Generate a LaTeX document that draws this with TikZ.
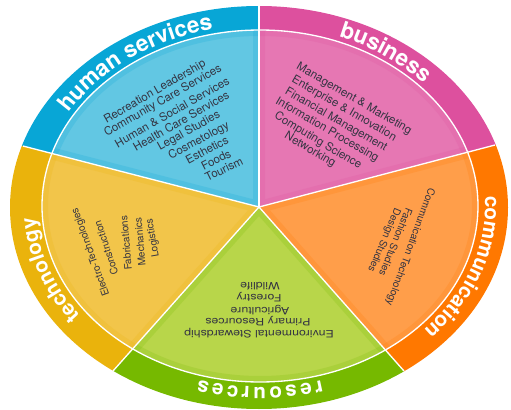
\documentclass[tikz,border=0pt]{standalone}
\usepackage{fontspec}
\setmainfont{TeX Gyre Heros}
\usetikzlibrary{calc,decorations.text}

\definecolor{hsband}{RGB}{8,166,214}
\definecolor{hsfill}{RGB}{98,199,227}
\definecolor{busband}{RGB}{221,80,158}
\definecolor{busfill}{RGB}{230,119,179}
\definecolor{comband}{RGB}{255,120,0}
\definecolor{comfill}{RGB}{255,158,74}
\definecolor{resband}{RGB}{118,185,0}
\definecolor{resfill}{RGB}{184,214,74}
\definecolor{tecband}{RGB}{234,179,12}
\definecolor{tecfill}{RGB}{242,197,74}
\definecolor{itemgray}{RGB}{52,52,66}

\newcommand{\bandfont}{\bfseries\fontsize{17}{17}\selectfont\color{white}}
\newcommand{\bandfontsm}{\bfseries\fontsize{15.5}{15.5}\selectfont\color{white}}

\tikzset{
  item/.style={font=\fontsize{8.6}{10}\selectfont, text=itemgray, inner sep=0pt},
  smallitem/.style={font=\fontsize{7.6}{9}\selectfont, text=itemgray, inner sep=0pt},
  divider/.style={draw=white, line width=1pt},
  glow/.style={line width=9pt, opacity=.2},
  bandlabel/.style={decorate, decoration={text along path, text align=center, text={#1}}}
}

\begin{document}
\begin{tikzpicture}[x=0.75pt,y=0.75pt,yscale=-1,xscale=1]
\useasboundingbox (0,0) rectangle (511,410);

%Centre and rim ends of the dividers
\coordinate (c) at (259,207);
\coordinate (o1) at (259,5);
\coordinate (o2) at (495,145);
\coordinate (o3) at (404,371);
\coordinate (o4) at (113,371);
\coordinate (o5) at (23,146);

%Sector: human services
\begin{scope}
\clip (c) -- ($(c)!3!(o5)$) -- ($(c)!3!(o1)$) -- cycle;
\fill[hsband] (259,207.5) ellipse [x radius=249, y radius=201.5];
\fill[hsfill] (260,206) ellipse [x radius=218, y radius=176];
\clip (260,206) ellipse [x radius=218, y radius=176];
\draw[hsband, glow] (c) -- ($(c)!3!(o5)$) -- ($(c)!3!(o1)$) -- cycle;
\draw[hsband, glow] (260,206) ellipse [x radius=218, y radius=176];
\end{scope}

%Sector: business
\begin{scope}
\clip (c) -- ($(c)!3!(o1)$) -- ($(c)!3!(o2)$) -- cycle;
\fill[busband] (259,207.5) ellipse [x radius=249, y radius=201.5];
\fill[busfill] (260,206) ellipse [x radius=218, y radius=176];
\clip (260,206) ellipse [x radius=218, y radius=176];
\draw[busband, glow] (c) -- ($(c)!3!(o1)$) -- ($(c)!3!(o2)$) -- cycle;
\draw[busband, glow] (260,206) ellipse [x radius=218, y radius=176];
\end{scope}

%Sector: communication
\begin{scope}
\clip (c) -- ($(c)!3!(o2)$) -- ($(c)!3!(o3)$) -- cycle;
\fill[comband] (259,207.5) ellipse [x radius=249, y radius=201.5];
\fill[comfill] (260,206) ellipse [x radius=218, y radius=176];
\clip (260,206) ellipse [x radius=218, y radius=176];
\draw[comband, glow] (c) -- ($(c)!3!(o2)$) -- ($(c)!3!(o3)$) -- cycle;
\draw[comband, glow] (260,206) ellipse [x radius=218, y radius=176];
\end{scope}

%Sector: resources
\begin{scope}
\clip (c) -- ($(c)!3!(o3)$) -- ($(c)!3!(o4)$) -- cycle;
\fill[resband] (259,207.5) ellipse [x radius=249, y radius=201.5];
\fill[resfill] (260,206) ellipse [x radius=218, y radius=176];
\clip (260,206) ellipse [x radius=218, y radius=176];
\draw[resband, glow] (c) -- ($(c)!3!(o3)$) -- ($(c)!3!(o4)$) -- cycle;
\draw[resband, glow] (260,206) ellipse [x radius=218, y radius=176];
\end{scope}

%Sector: technology
\begin{scope}
\clip (c) -- ($(c)!3!(o4)$) -- ($(c)!3!(o5)$) -- cycle;
\fill[tecband] (259,207.5) ellipse [x radius=249, y radius=201.5];
\fill[tecfill] (260,206) ellipse [x radius=218, y radius=176];
\clip (260,206) ellipse [x radius=218, y radius=176];
\draw[tecband, glow] (c) -- ($(c)!3!(o4)$) -- ($(c)!3!(o5)$) -- cycle;
\draw[tecband, glow] (260,206) ellipse [x radius=218, y radius=176];
\end{scope}

%Dividers
\draw[divider] (260,206) ellipse [x radius=218, y radius=176];
\draw[divider] (c) -- (o1);
\draw[divider] (c) -- (o2);
\draw[divider] (c) -- (o3);
\draw[divider] (c) -- (o4);
\draw[divider] (c) -- (o5);

%Band labels
\path[bandlabel={|\bandfont|human services}] ($(260,206)+(193:223 and 181)$) arc[start angle=193, end angle=273, x radius=223, y radius=181];
\path[bandlabel={|\bandfont|business}] ($(260,206)+(266:223 and 181)$) arc[start angle=266, end angle=346, x radius=223, y radius=181];
\path[bandlabel={|\bandfontsm|communication}] ($(260,206)+(-21:225 and 181)$) arc[start angle=-21, end angle=59, x radius=225, y radius=181];
\path[decorate, decoration={text along path, text align=fit to path, text={|\bandfontsm|resources}}] ($(260,206)+(74:223 and 181)$) arc[start angle=74, end angle=106, x radius=223, y radius=181];
\path[bandlabel={|\bandfontsm|technology}] ($(260,206)+(121:225 and 181)$) arc[start angle=121, end angle=201, x radius=225, y radius=181];

% Text Node
\node[item, rotate=30] (hs1) at (155,92) {Recreation Leadership};
\node[item, rotate=30] (hs2) at (163,101) {Community Care Services};
\node[item, rotate=30] (hs3) at (172,112) {Human \& Social Services};
\node[item, rotate=30] (hs4) at (181,121) {Health Care Services};
\node[item, rotate=29] (hs5) at (189,131) {Legal Studies};
\node[item, rotate=28] (hs6) at (199,141) {Cosmetology};
\node[item, rotate=28] (hs7) at (207,150) {Esthetics};
\node[item, rotate=27] (hs8) at (216,160) {Foods};
\node[item, rotate=26] (hs9) at (224,169) {Tourism};
% Text Node
\node[item, rotate=-30] (bus1) at (354,99) {Management \& Marketing};
\node[item, rotate=-30] (bus2) at (344,109) {Enterprise \& Innovation};
\node[item, rotate=-30] (bus3) at (336,120) {Financial Management};
\node[item, rotate=-30] (bus4) at (327,130) {Information Processing};
\node[item, rotate=-31] (bus5) at (318,141) {Computing Science};
\node[item, rotate=-31] (bus6) at (310,150) {Networking};
% Text Node
\node[smallitem, rotate=-110] (com1) at (410,247) {Communication Technology};
\node[smallitem, rotate=-112] (com2) at (396,242) {Fashion Studies};
\node[smallitem, rotate=-113] (com3) at (384,240) {Design Studies};
% Text Node
\node[smallitem, rotate=180, xscale=1.22] (res1) at (259,333) {Environmental Stewardship};
\node[smallitem, rotate=180, xscale=1.22] (res2) at (258,321) {Primary Resources};
\node[smallitem, rotate=180, xscale=1.22] (res3) at (260,310) {Agriculture};
\node[smallitem, rotate=180, xscale=1.22] (res4) at (259,297) {Forestry};
\node[smallitem, rotate=180, xscale=1.22] (res5) at (260,286) {Wildlife};
% Text Node
\node[smallitem, rotate=110] (tec1) at (91,252) {Electro-Technologies};
\node[smallitem, rotate=108] (tec2) at (106,248) {Construction};
\node[smallitem, rotate=95] (tec3) at (126,243) {Fabrications};
\node[smallitem, rotate=95] (tec4) at (140,242) {Mechanics};
\node[smallitem, rotate=100] (tec5) at (153,238) {Logistics};

\end{tikzpicture}
\end{document}
